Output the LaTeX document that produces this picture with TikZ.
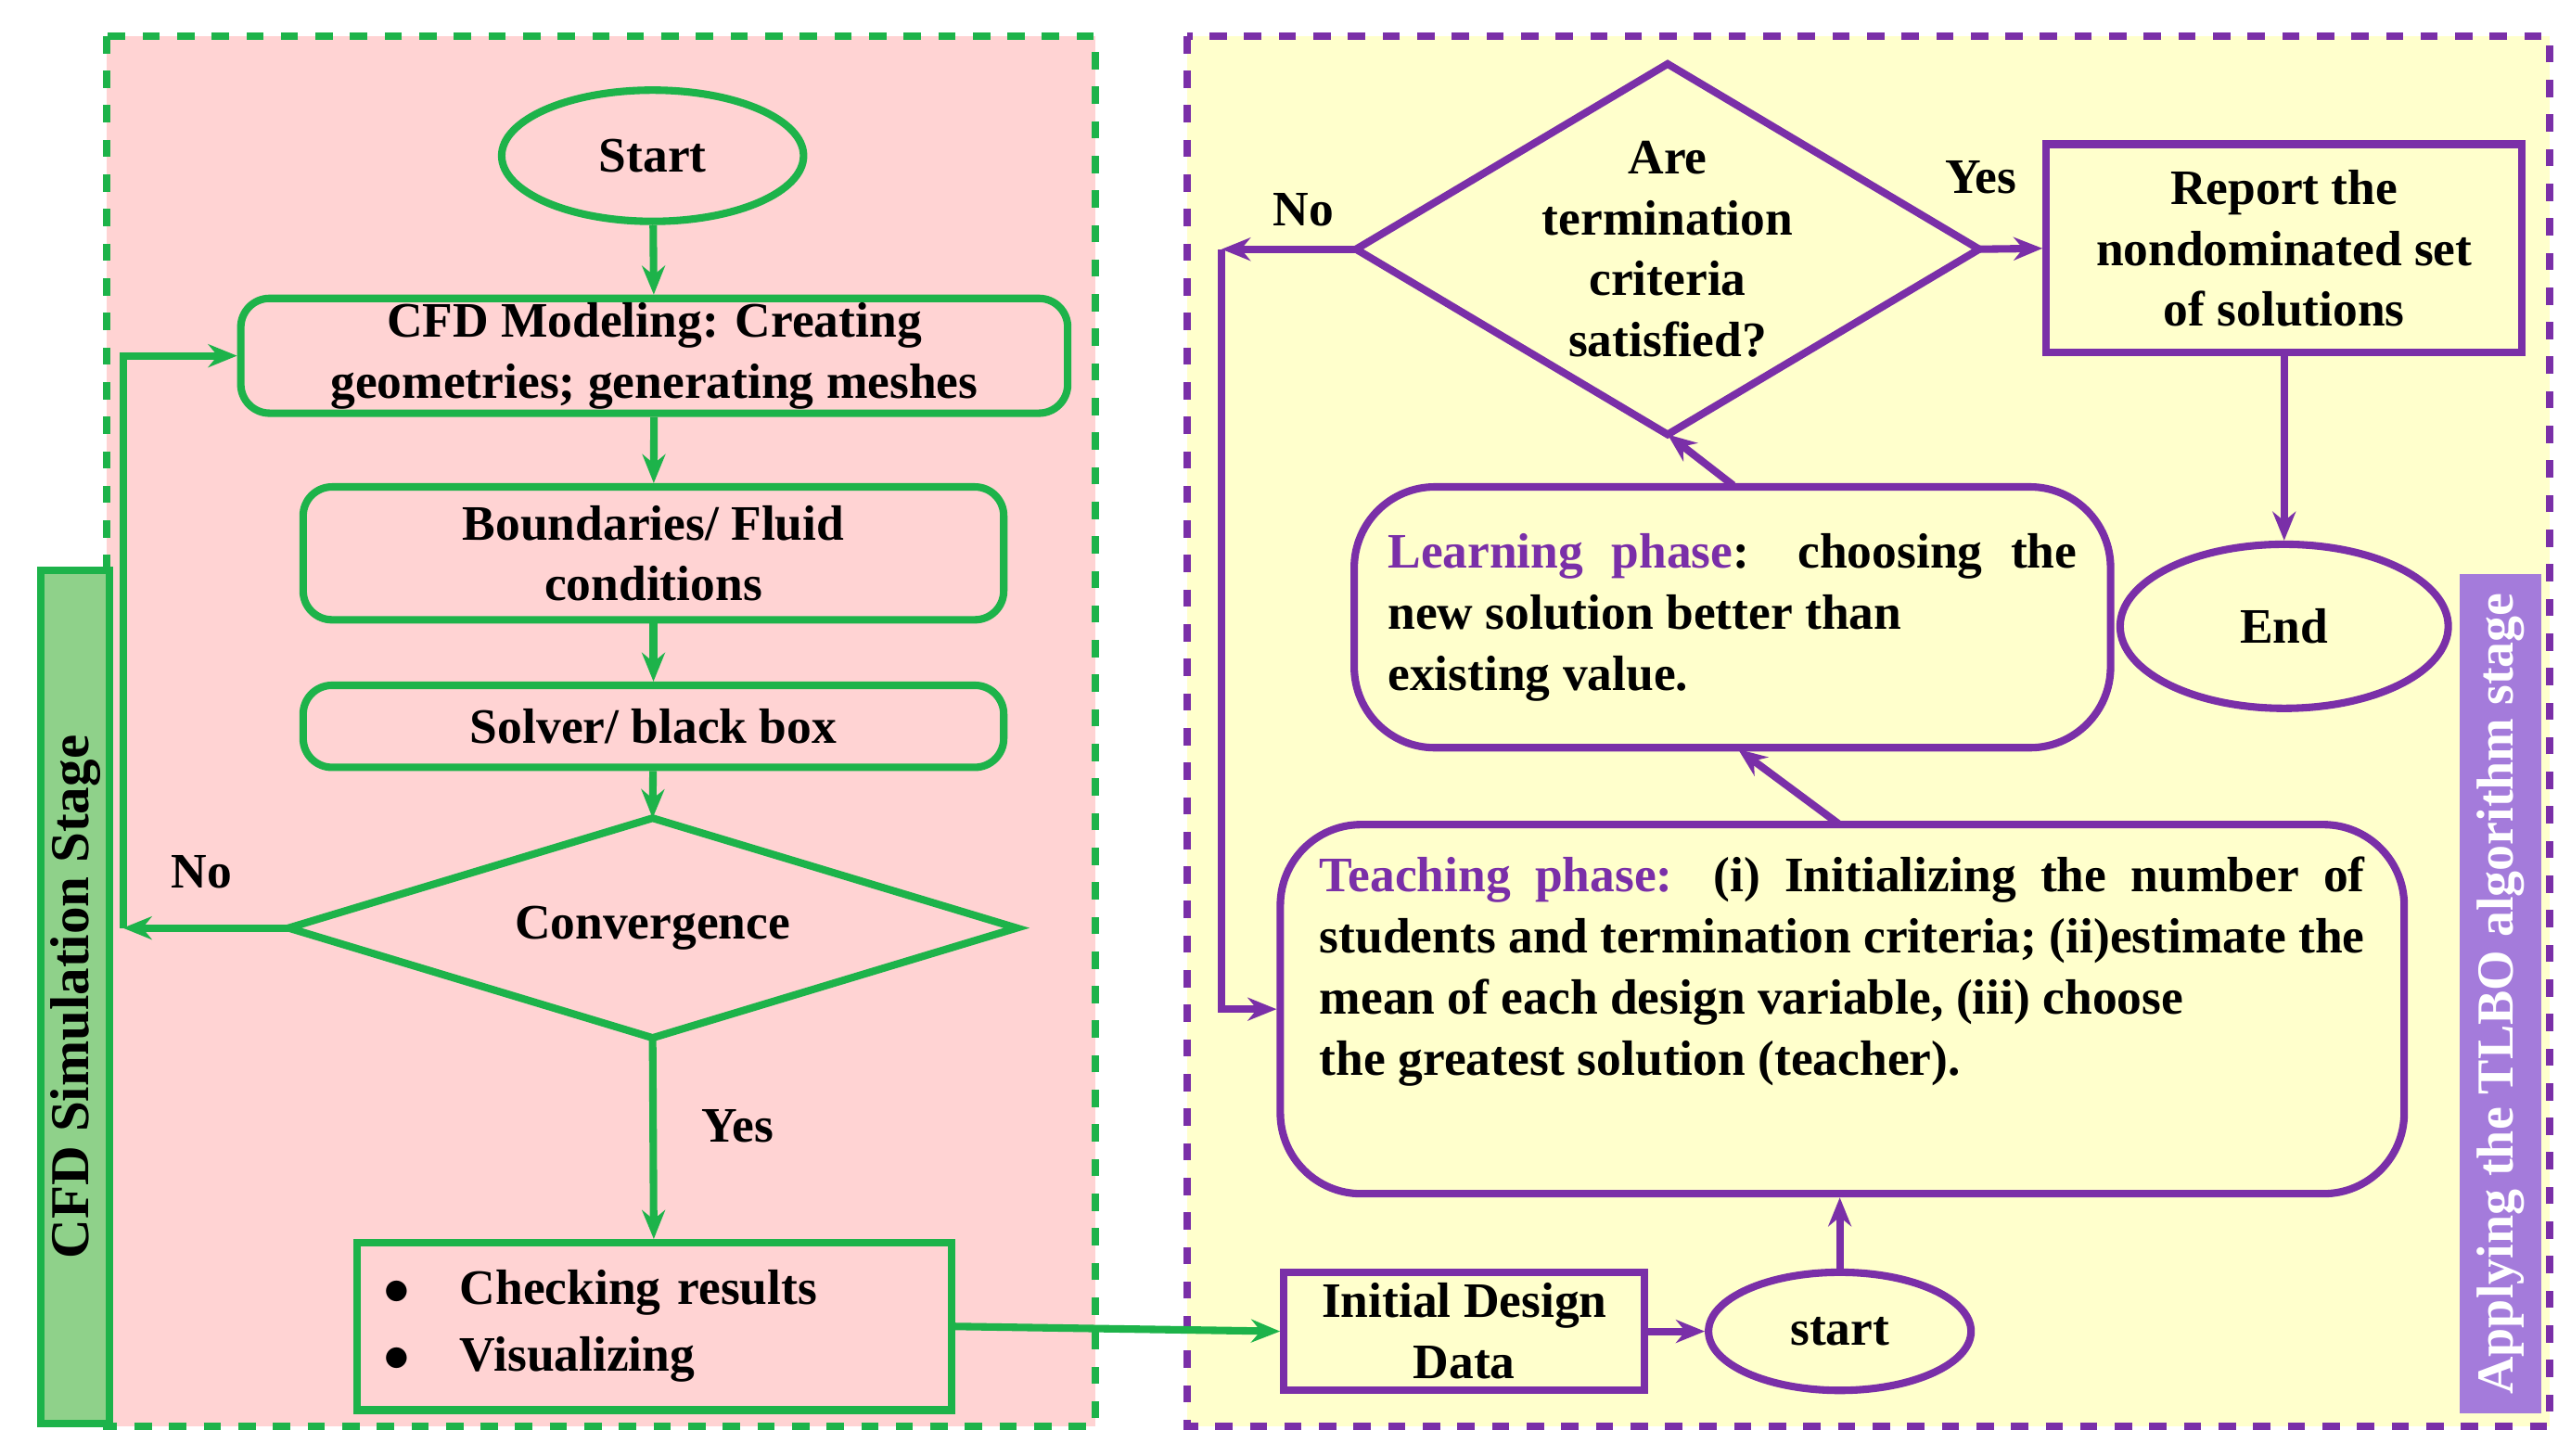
\documentclass[tikz,border=0pt]{standalone}
\usepackage{fontspec}
\setmainfont{Liberation Serif}
\usetikzlibrary{shapes.geometric,arrows.meta}
\definecolor{gr}{HTML}{1DB34A}
\definecolor{pu}{HTML}{7A2FA8}
\definecolor{pinkbg}{HTML}{FFD3D3}
\definecolor{yelbg}{HTML}{FFFFCC}
\definecolor{gbar}{HTML}{8FD18A}
\definecolor{pbar}{HTML}{A47BDB}
\begin{document}
\begin{tikzpicture}[x=0.01cm,y=-0.01cm,
 every node/.style={font=\fontsize{8.6}{10.6}\selectfont\bfseries},
 g/.style={draw=gr,line width=1.3pt},
 p/.style={draw=pu,line width=1.3pt},
 ga/.style={gr,line width=1.3pt,-{Stealth[length=5pt,width=4pt]}},
 pa/.style={pu,line width=1.3pt,-{Stealth[length=5pt,width=4pt]}},
 gbox/.style={g,fill=pinkbg,rounded corners=5pt,align=center,inner sep=0pt},
 pbox/.style={p,fill=yelbg,rounded corners=14pt,inner sep=0pt}]
\useasboundingbox (0,0) rectangle (1560,888);
\fill[white] (0,0) rectangle (1560,888);
% panels
\draw[gr,fill=pinkbg,line width=1.3pt,dashed] (65,22) rectangle (668,870);
\draw[pu,fill=yelbg,line width=1.3pt,dashed] (724,22) rectangle (1555,870);
\draw[gr,fill=gbar,line width=1.3pt] (25,348) rectangle (67,868);
\node[rotate=90] (lbl1) at (46,608) {\fontsize{9.5}{12}\selectfont CFD Simulation Stage};
\fill[pbar] (1500,350) rectangle (1550,862);
\node[rotate=90,text=white] (lbl2) at (1525,606) {\fontsize{9}{11}\selectfont Applying the TLBO algorithm stage};
% left flow
\node[g,ellipse,fill=pinkbg,minimum width=1.84cm,minimum height=0.8cm,inner sep=0pt] (start) at (398,95) {Start};
\node[gbox,minimum width=5.04cm,minimum height=0.7cm] (cfd) at (399,217) {CFD Modeling: Creating\\geometries; generating meshes};
\node[gbox,minimum width=4.27cm,minimum height=0.81cm] (bnd) at (398.5,337.5) {Boundaries/ Fluid\\conditions};
\node[gbox,minimum width=4.27cm,minimum height=0.5cm] (sol) at (398.5,443) {Solver/ black box};
\coordinate (cvN) at (398,499);
\coordinate (cvS) at (398,633);
\coordinate (cvW) at (176,566);
\coordinate (cvE) at (620,566);
\draw[g,fill=pinkbg] (cvN) -- (cvE) -- (cvS) -- (cvW) -- cycle;
\node (conv) at (398,566) {Convergence};
\node[g,fill=pinkbg,minimum width=3.62cm,minimum height=1.02cm,inner sep=0pt,text width=3.3cm,align=left] (chk) at (399,809) {$\bullet$\quad Checking results\\[1pt]$\bullet$\quad Visualizing};
\coordinate (c1) at (75,566);
\draw[ga] (start) -- (cfd);
\draw[ga] (cfd) -- (bnd);
\draw[ga] (bnd) -- (sol);
\draw[ga] (sol) -- (cvN);
\draw[ga] (cvS) -- (chk);
\draw[ga] (cvW) -- (c1);
\draw[ga] (c1) |- (cfd.west);
\node (no1) at (123,532) {No};
\node (yes1) at (450,687) {Yes};
% right flow
\coordinate (tN) at (1017,39);
\coordinate (tS) at (1017,265);
\coordinate (tW) at (827,152);
\coordinate (tE) at (1207,152);
\draw[p,fill=yelbg] (tN) -- (tE) -- (tS) -- (tW) -- cycle;
\node[align=center] (term) at (1017,152) {Are\\termination\\criteria\\satisfied?};
\node[p,fill=yelbg,minimum width=2.9cm,minimum height=1.27cm,inner sep=0pt,align=center] (rep) at (1393,151.5) {Report the\\nondominated set\\of solutions};
\node[p,ellipse,fill=yelbg,minimum width=2cm,minimum height=1cm,inner sep=0pt] (end) at (1393,382) {End};
\node[pbox,minimum width=4.61cm,minimum height=1.59cm,text width=4.2cm,align=justify] (learn) at (1056.5,376.5) {{\color{pu}Learning phase}: choosing the new solution better than\\existing value.};
\node[pbox,minimum width=6.85cm,minimum height=2.25cm,text width=6.37cm,align=justify] (teach) at (1123.5,615.5) {{\color{pu}Teaching phase:} (i) Initializing the number of students and termination criteria; (ii)estimate the mean of each design variable, (iii) choose\\the greatest solution (teacher).\\[0.5em]};
\node[p,fill=yelbg,minimum width=2.2cm,minimum height=0.72cm,inner sep=0pt,align=center] (init) at (893,812) {Initial Design\\Data};
\node[p,ellipse,fill=yelbg,minimum width=1.6cm,minimum height=0.72cm,inner sep=0pt] (st) at (1122,812) {start};
\coordinate (c2) at (745,152);
\draw[ga] (chk.east) -- (init.west);
\draw[pa] (init) -- (st);
\draw[pa] (st.north) -- (teach.south -| st.north);
\draw[pa] (1122,503) -- (1060,457);
\draw[pa] (1057,296) -- (tS);
\draw[pa] (tE) -- (rep.west);
\draw[pa] (rep) -- (end);
\draw[pa] (tW) -- (c2);
\draw[pa] (c2) |- (teach.west);
\node (yes2) at (1208,108) {Yes};
\node (no2) at (795,128) {No};
\end{tikzpicture}
\end{document}
